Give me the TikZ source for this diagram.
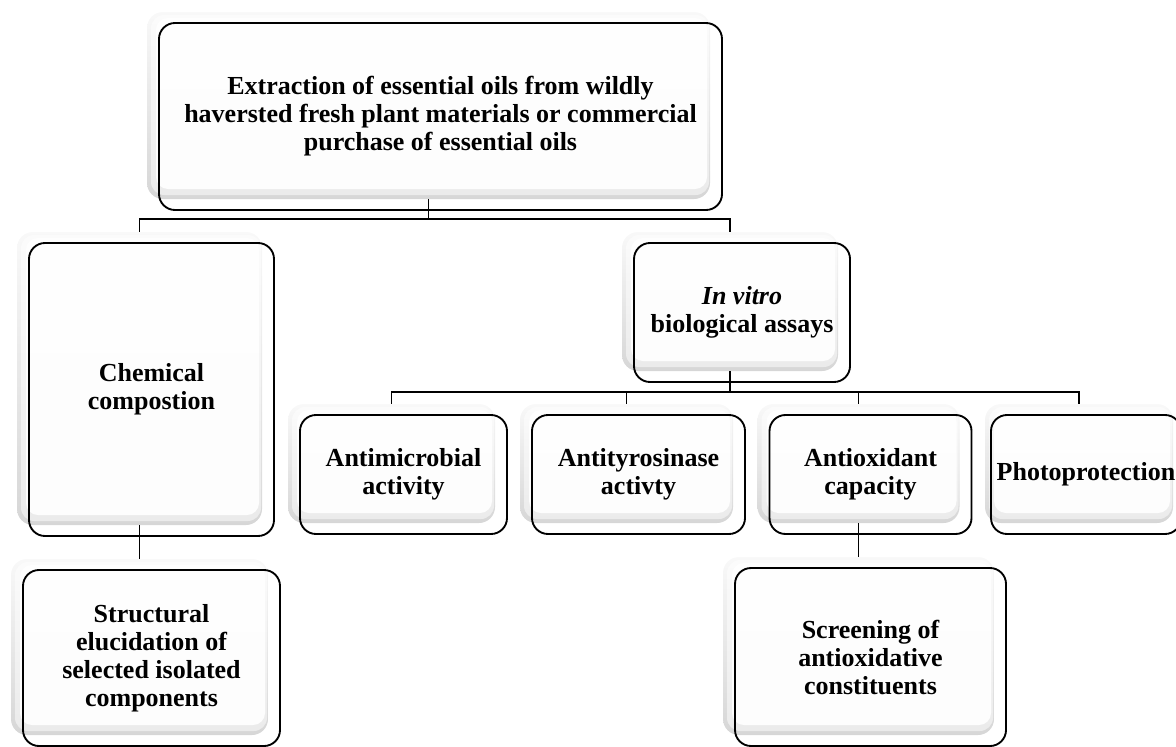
\documentclass[tikz,border=0pt]{standalone}
\usepackage{fontspec}
\setmainfont{Liberation Serif}

\newlength{\px}
\setlength{\px}{0.75pt}

\tikzstyle{element}=[rectangle, draw, line width=1.4pt, rounded corners=12pt,
                     align=center, inner sep=0.1cm,
                     font=\bfseries\fontsize{19.5}{21}\selectfont]
\tikzstyle{backing}=[rectangle, rounded corners=12pt, draw=none,
                     top color=gray!5, bottom color=gray!32,
                     path picture={
                       \fill[white, opacity=0.5, rounded corners=10pt]
                         ([shift={(4,3)}]path picture bounding box.north west) rectangle
                         ([shift={(-1,-4)}]path picture bounding box.south east);
                       \fill[white, opacity=0.9, rounded corners=9pt]
                         ([shift={(9,6)}]path picture bounding box.north west) rectangle
                         ([shift={(-3,-10)}]path picture bounding box.south east);
                     }]
\tikzstyle{link}=[line width=1.4pt]

\begin{document}
\begin{tikzpicture}[x=0.75pt, y=-0.75pt]

\useasboundingbox (0,0) rectangle (1176,746);

%%%%%%%%%%%%%%%%%%%%%%%%%%%%%%
% backings

\node (extract_bg) at (428.5,105.5) [backing, minimum width=563*\px, minimum height=187*\px] {};

\node (chem_bg) at (139.5,378.5) [backing, minimum width=245*\px, minimum height=293*\px] {};
\node (struct_bg) at (139.5,647) [backing, minimum width=257*\px, minimum height=176*\px] {};

\node (invitro_bg) at (730,301.5) [backing, minimum width=216*\px, minimum height=139*\px] {};

\node (amic_bg) at (391.5,463.5) [backing, minimum width=207*\px, minimum height=119*\px] {};
\node (atyr_bg) at (626.5,463.5) [backing, minimum width=213*\px, minimum height=119*\px] {};
\node (aox_bg) at (858.5,463.5) [backing, minimum width=202*\px, minimum height=119*\px] {};
\node (photo_bg) at (1079,463.5) [backing, minimum width=188*\px, minimum height=119*\px] {};

\node (scr_bg) at (858.5,646) [backing, minimum width=271*\px, minimum height=178*\px] {};

%%%%%%%%%%%%%%%%%%%%%%%%%%%%%%
% nodes

\node (extract) at (440.5,116.5) [element, minimum width=563*\px, minimum height=187*\px]
  {Extraction of essential oils from wildly\\haversted fresh plant materials or commercial\\purchase of essential oils};

% left branch
\node (chem) at (151.5,389.5) [element, minimum width=245*\px, minimum height=293*\px] {Chemical\\compostion};
\node (struct) at (151.5,658) [element, minimum width=257*\px, minimum height=176*\px]
  {Structural\\elucidation of\\selected isolated\\components};

% right branch
\node (invitro) at (742,312.5) [element, minimum width=216*\px, minimum height=139*\px] {\textit{In vitro}\\biological assays};

\node (amic) at (403.5,474.5) [element, minimum width=207*\px, minimum height=119*\px] {Antimicrobial\\activity};
\node (atyr) at (638.5,474.5) [element, minimum width=213*\px, minimum height=119*\px] {Antityrosinase\\activty};
\node (aox) at (870.5,474.5) [element, minimum width=202*\px, minimum height=119*\px] {Antioxidant\\capacity};
\node (photo) at (1086,474.5) [element, minimum width=190*\px, minimum height=119*\px] {Photoprotection};

\node (scr) at (870.5,657) [element, minimum width=271*\px, minimum height=178*\px]
  {Screening of\\antioxidative\\constituents};

%%%%%%%%%%%%%%%%%%%%%%%%%%%%%%
% links

\draw [link] (extract_bg.south) -- ++(0,20) -| (chem_bg.north);
\draw [link] (extract_bg.south) -- ++(0,20) -| (invitro_bg.north);

\draw [link] (chem_bg.south) -- (struct_bg.north);

\draw [link] (invitro_bg.south) -- ++(0,21) -| (amic_bg.north);
\draw [link] (invitro_bg.south) -- ++(0,21) -| (atyr_bg.north);
\draw [link] (invitro_bg.south) -- ++(0,21) -| (aox_bg.north);
\draw [link] (invitro_bg.south) -- ++(0,21) -| (photo_bg.north);

\draw [link] (aox_bg.south) -- (scr_bg.north);

\end{tikzpicture}
\end{document}
